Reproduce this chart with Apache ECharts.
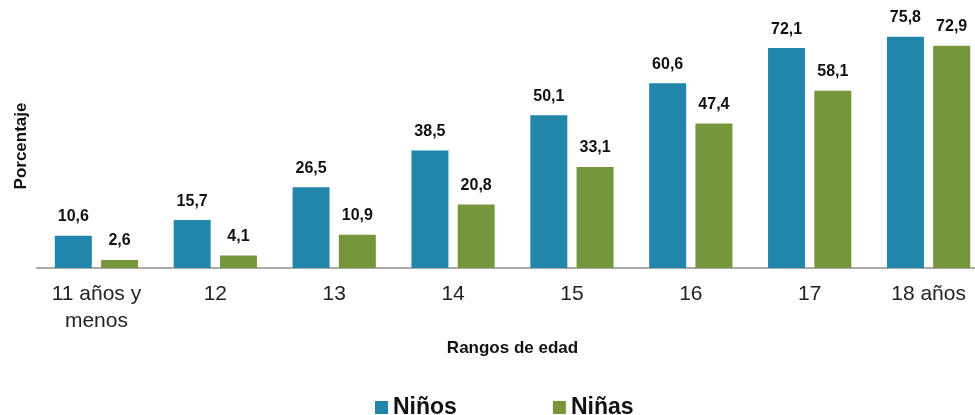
<!DOCTYPE html>
<html>
<head>
<meta charset="utf-8">
<script src="https://cdn.jsdelivr.net/npm/echarts@6/dist/echarts.min.js"></script>
<style>
  html, body { margin: 0; padding: 0; background: #fff; overflow: hidden; }
  /* el eje del original se sale un poco por la derecha */
  #main { width: 988px; height: 415px; }
</style>
</head>
<body>
<div id="main"></div>
<script>
// datos
var categorias = ["11 años y\nmenos", "12", "13", "14", "15", "16", "17", "18 años"];
var ninos = [10.6, 15.7, 26.5, 38.5, 50.1, 60.6, 72.1, 75.8];
var ninas = [2.6, 4.1, 10.9, 20.8, 33.1, 47.4, 58.1, 72.9];

var chart = echarts.init(document.getElementById("main"));

var etiqueta = {
  show: true,
  position: "top",
  distance: 11,
  fontFamily: "Liberation Sans",
  fontWeight: "bold",
  fontSize: 16,
  color: "#111",
  formatter: function (p) {
    return p.value.toFixed(1).replace(".", ",");
  }
};

var option = {
  animation: false,
  textStyle: { fontFamily: "Liberation Sans" },
  grid: { left: 37, right: 0, top: 24, bottom: 147, containLabel: false },
  legend: {
    top: 391,
    left: 370,
    itemGap: 96,
    itemWidth: 13,
    itemHeight: 13,
    icon: "rect",
    textStyle: { fontSize: 23, fontWeight: "bold", color: "#111" },
    data: ["Niños", "Niñas"]
  },
  xAxis: {
    type: "category",
    data: categorias,
    name: "Rangos de edad",
    nameLocation: "middle",
    nameGap: 70,
    nameTextStyle: { fontSize: 17, fontWeight: "bold", color: "#111" },
    axisLine: { lineStyle: { color: "#aaa", width: 2 } },
    axisTick: { show: false },
    axisLabel: { fontSize: 21, color: "#222", margin: 13, lineHeight: 27 }
  },
  yAxis: {
    type: "value",
    min: 0,
    max: 80,
    name: "Porcentaje",
    nameLocation: "middle",
    nameGap: 7,
    nameTextStyle: { fontSize: 17, fontWeight: "bold", color: "#111" },
    axisLine: { show: false },
    axisTick: { show: false },
    axisLabel: { show: false },
    splitLine: { show: false }
  },
  series: [
    {
      name: "Niños",
      type: "bar",
      data: ninos,
      barWidth: 37,
      barGap: "25%",
      itemStyle: { color: "#2286AB" },
      label: etiqueta
    },
    {
      name: "Niñas",
      type: "bar",
      data: ninas,
      barWidth: 37,
      barGap: "25%",
      itemStyle: { color: "#76963B" },
      label: etiqueta
    }
  ]
};

chart.setOption(option);
</script>
</body>
</html>
